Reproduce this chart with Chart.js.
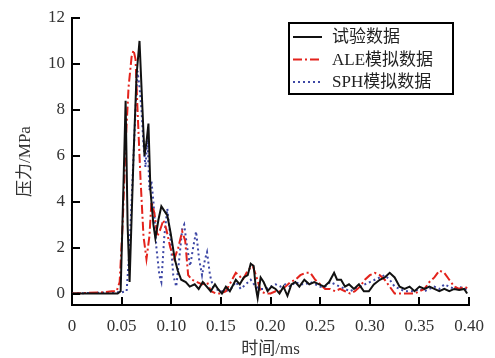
<!DOCTYPE html>
<html>
<head>
<meta charset="utf-8">
<script src="https://cdn.jsdelivr.net/npm/chart.js@4"></script>
<style>
  html, body { margin: 0; padding: 0; background: #fff; }
  #wrap { width: 495px; height: 358px; }
</style>
</head>
<body>
<div id="wrap"><canvas id="grafica"></canvas></div>
<script>
// data (time in ms, pressure in MPa)
const seriesNames = ['试验数据', 'ALE模拟数据', 'SPH模拟数据'];

const tExp = [0, 0.046, 0.049, 0.052, 0.054, 0.056, 0.058, 0.062, 0.065, 0.068, 0.071, 0.073, 0.075, 0.077, 0.079, 0.082, 0.084, 0.087, 0.090, 0.093, 0.096, 0.0995, 0.1035, 0.1065, 0.110, 0.1146, 0.1186, 0.1236, 0.1276, 0.1317, 0.1357, 0.1397, 0.144, 0.147, 0.151, 0.155, 0.159, 0.165, 0.169, 0.173, 0.177, 0.180, 0.183, 0.185, 0.187, 0.190, 0.193, 0.197, 0.201, 0.205, 0.209, 0.213, 0.217, 0.221, 0.225, 0.229, 0.234, 0.239, 0.244, 0.249, 0.254, 0.259, 0.264, 0.267, 0.271, 0.275, 0.279, 0.284, 0.289, 0.294, 0.299, 0.304, 0.310, 0.315, 0.320, 0.325, 0.330, 0.335, 0.340, 0.345, 0.350, 0.355, 0.360, 0.365, 0.370, 0.375, 0.380, 0.385, 0.390, 0.395, 0.398];
const pExp = [0, 0, 0.1, 5, 8.4, 3, 0.5, 6, 9.5, 11, 8, 6, 6.6, 7.4, 4.5, 3, 2.4, 3.2, 3.8, 3.6, 3.4, 2.6, 1.5, 1.0, 0.6, 0.5, 0.3, 0.4, 0.2, 0.5, 0.3, 0.1, 0.4, 0.2, 0.0, 0.3, 0.1, 0.6, 0.4, 0.7, 0.8, 1.3, 1.2, 0.3, -0.2, 0.7, 0.5, 0.1, 0.3, 0.2, 0.0, 0.3, -0.1, 0.4, 0.5, 0.3, 0.6, 0.4, 0.5, 0.4, 0.3, 0.5, 0.9, 0.6, 0.6, 0.3, 0.4, 0.2, 0.4, 0.1, 0.1, 0.4, 0.6, 0.7, 0.9, 0.7, 0.3, 0.2, 0.3, 0.1, 0.3, 0.2, 0.3, 0.2, 0.1, 0.2, 0.1, 0.2, 0.15, 0.2, 0.0];

const tAle = [0, 0.03, 0.04, 0.045, 0.048, 0.051, 0.054, 0.057, 0.060, 0.062, 0.064, 0.066, 0.069, 0.072, 0.075, 0.078, 0.080, 0.083, 0.086, 0.089, 0.092, 0.095, 0.099, 0.103, 0.107, 0.111, 0.114, 0.117, 0.121, 0.126, 0.131, 0.136, 0.140, 0.145, 0.150, 0.155, 0.160, 0.165, 0.168, 0.172, 0.177, 0.182, 0.186, 0.190, 0.195, 0.200, 0.205, 0.210, 0.215, 0.220, 0.225, 0.230, 0.235, 0.240, 0.245, 0.250, 0.255, 0.260, 0.265, 0.270, 0.275, 0.280, 0.285, 0.290, 0.295, 0.300, 0.305, 0.310, 0.315, 0.320, 0.325, 0.330, 0.335, 0.340, 0.345, 0.350, 0.355, 0.360, 0.365, 0.370, 0.375, 0.380, 0.385, 0.390, 0.395, 0.400];
const pAle = [0, 0.05, 0.1, 0.1, 0.5, 3, 6.5, 9, 10.3, 10.6, 10.2, 8, 5, 2.5, 1.5, 2.5, 4.0, 3.5, 2.5, 2.8, 3.2, 2.8, 2.0, 1.5, 2.0, 2.7, 2.3, 0.8, 0.6, 0.5, 0.4, 0.5, 0.1, 0.0, 0.0, 0.1, 0.5, 0.9, 0.8, 0.6, 1.0, 1.2, 0.7, 0.1, 0.0, 0.0, 0.1, 0.1, 0.3, 0.5, 0.6, 0.8, 0.9, 0.9, 0.6, 0.4, 0.2, 0.2, 0.1, 0.2, 0.1, 0.0, 0.1, 0.3, 0.6, 0.8, 0.9, 0.8, 0.6, 0.3, 0.0, 0.0, 0.0, 0.0, 0.0, 0.1, 0.2, 0.5, 0.7, 1.0, 0.9, 0.6, 0.3, 0.2, 0.3, 0.2];

const tSph = [0, 0.04, 0.050, 0.055, 0.058, 0.061, 0.064, 0.066, 0.068, 0.070, 0.072, 0.074, 0.076, 0.078, 0.080, 0.082, 0.085, 0.088, 0.090, 0.093, 0.096, 0.099, 0.102, 0.105, 0.108, 0.111, 0.113, 0.116, 0.119, 0.122, 0.125, 0.128, 0.131, 0.134, 0.136, 0.139, 0.142, 0.145, 0.150, 0.155, 0.160, 0.165, 0.170, 0.175, 0.180, 0.185, 0.190, 0.195, 0.200, 0.205, 0.210, 0.215, 0.220, 0.225, 0.230, 0.235, 0.240, 0.245, 0.250, 0.255, 0.260, 0.265, 0.270, 0.275, 0.280, 0.285, 0.290, 0.295, 0.300, 0.305, 0.310, 0.315, 0.320, 0.325, 0.330, 0.335, 0.340, 0.345, 0.350, 0.355, 0.360, 0.365, 0.370, 0.375, 0.380, 0.385, 0.390, 0.395, 0.400];
const pSph = [0, 0.05, 0.05, 0.1, 2, 5, 8, 9.7, 9.0, 8, 6.5, 5.5, 6.8, 4.5, 4.9, 4.0, 2, 0.8, 0.5, 2.5, 3.7, 2.5, 0.8, 0.3, 1.5, 2.8, 3.0, 2.0, 1.2, 2.0, 2.7, 1.5, 0.8, 1.5, 1.8, 0.8, 0.3, 0.2, 0.1, 0.1, 0.2, 0.5, 0.2, 0.4, 0.6, 0.3, 0.2, 0.2, 0.3, 0.4, 0.3, 0.4, 0.3, 0.5, 0.4, 0.4, 0.5, 0.4, 0.3, 0.3, 0.5, 0.4, 0.3, 0.2, 0.1, 0.2, 0.3, 0.4, 0.5, 0.6, 0.7, 0.8, 0.6, 0.3, 0.2, 0.1, 0.1, 0.1, 0.2, 0.1, 0.2, 0.3, 0.2, 0.4, 0.3, 0.2, 0.3, 0.2, 0.2];

const xTicks = [0, 0.05, 0.10, 0.15, 0.20, 0.25, 0.30, 0.35, 0.40];
const xTickLabels = ['0', '0.05', '0.10', '0.15', '0.20', '0.25', '0.30', '0.35', '0.40'];
const yTicks = [0, 2, 4, 6, 8, 10, 12];

const pts = (t, p) => t.map((v, i) => ({ x: v, y: p[i] }));

const SERIF = '"Liberation Serif", "Times New Roman", "Noto Sans CJK SC", serif';

// ticks point inward, so they are drawn here
const inwardTicks = {
  id: 'inwardTicks',
  afterDraw(chart) {
    const c = chart.ctx, a = chart.chartArea;
    const xs = chart.scales.x, ys = chart.scales.y;
    c.save();
    c.strokeStyle = '#000';
    c.lineWidth = 2;
    c.beginPath();
    xTicks.forEach(v => {
      const px = Math.round(xs.getPixelForValue(v));
      if (v === 0) return;
      c.moveTo(px, a.bottom);
      c.lineTo(px, a.bottom - 8);
    });
    yTicks.forEach(v => {
      const py = Math.round(ys.getPixelForValue(v));
      c.moveTo(a.left, py);
      c.lineTo(a.left + 8, py);
    });
    c.stroke();
    c.restore();
  }
};

// boxed legend inside the plot
const boxLegend = {
  id: 'boxLegend',
  afterDraw(chart) {
    const c = chart.ctx;
    const bx = 289, by = 23, bw = 164, bh = 71;
    c.save();
    c.fillStyle = '#fff';
    c.fillRect(bx, by, bw, bh);
    c.strokeStyle = '#000';
    c.lineWidth = 2;
    c.strokeRect(bx, by, bw, bh);
    chart.data.datasets.forEach((ds, i) => {
      const y = 37 + i * 22.5;
      c.beginPath();
      c.strokeStyle = ds.borderColor;
      c.lineWidth = 2;
      c.setLineDash(ds.borderDash || []);
      c.moveTo(293, y);
      c.lineTo(322, y);
      c.stroke();
      c.setLineDash([]);
      c.fillStyle = '#222';
      c.font = '17px ' + SERIF;
      c.textBaseline = 'middle';
      c.fillText(ds.label, 332, y + 1);
    });
    c.restore();
  }
};

new Chart(document.getElementById('grafica'), {
  type: 'line',
  data: {
    datasets: [
      { label: seriesNames[0], data: pts(tExp, pExp), borderColor: '#111111', borderWidth: 2 },
      { label: seriesNames[1], data: pts(tAle, pAle), borderColor: '#e3231c', borderWidth: 2, borderDash: [9, 3, 2, 3] },
      { label: seriesNames[2], data: pts(tSph, pSph), borderColor: '#3d47a5', borderWidth: 2, borderDash: [2, 3] }
    ]
  },
  options: {
    responsive: true,
    maintainAspectRatio: false,
    animation: false,
    elements: { point: { radius: 0 }, line: { tension: 0 } },
    layout: { padding: { top: 18, right: 25, left: 0, bottom: 0 } },
    scales: {
      x: {
        type: 'linear',
        min: 0, max: 0.40,
        afterBuildTicks: s => { s.ticks = xTicks.map(v => ({ value: v })); },
        afterFit: s => { s.height = 53; },
        grid: { display: true, drawOnChartArea: false, drawTicks: false },
        border: { display: true, color: '#000', width: 2 },
        ticks: {
          padding: 11,
          color: '#333',
          font: { family: SERIF, size: 17 },
          maxRotation: 0,
          callback: (v, i) => xTickLabels[i]
        },
        title: { display: true, text: '时间/ms', color: '#333', font: { family: SERIF, size: 17, lineHeight: 1 }, padding: 0 }
      },
      y: {
        min: -0.5, max: 12,
        afterBuildTicks: s => { s.ticks = yTicks.map(v => ({ value: v })); },
        afterFit: s => { s.width = 72; },
        grid: { display: true, drawOnChartArea: false, drawTicks: false },
        border: { display: true, color: '#000', width: 2 },
        ticks: {
          padding: 7,
          color: '#333',
          font: { family: SERIF, size: 17 }
        },
        title: { display: true, text: '压力/MPa', color: '#333', font: { family: SERIF, size: 17, lineHeight: 1 }, padding: { top: 17, bottom: 0 } }
      }
    },
    plugins: {
      legend: { display: false },
      tooltip: { enabled: false }
    }
  },
  plugins: [inwardTicks, boxLegend]
});
</script>
</body>
</html>
